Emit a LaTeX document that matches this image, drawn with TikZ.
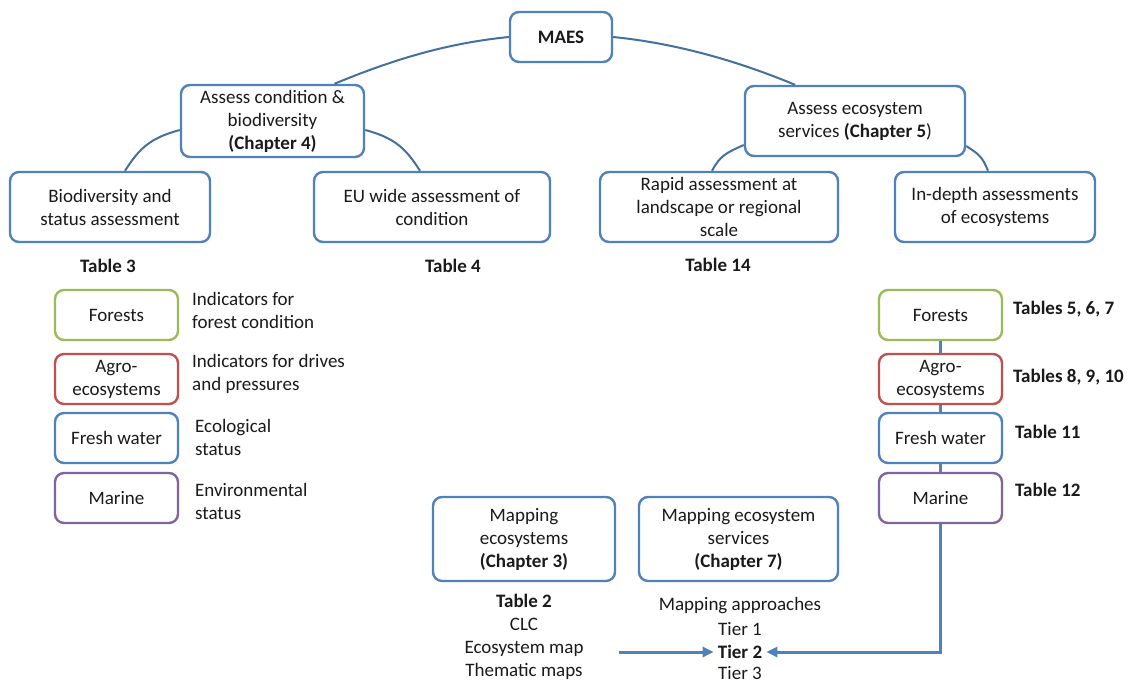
\documentclass[tikz,border=0pt]{standalone}
\usepackage{fontspec}
\setmainfont{Carlito}
\usetikzlibrary{arrows.meta,calc}
\definecolor{bblue}{HTML}{4F81BD}
\definecolor{arcblue}{HTML}{41719C}
\definecolor{fgreen}{HTML}{9BBB59}
\definecolor{ared}{HTML}{C0504D}
\definecolor{mpurple}{HTML}{8064A2}
\definecolor{txt}{HTML}{1A1A1A}
\begin{document}
\begin{tikzpicture}[x=1pt,y=-1pt,
  every node/.style={font=\fontsize{19}{23}\selectfont, text=txt},
  box/.style={draw=bblue, line width=2.4pt, rounded corners=9pt, fill=white, align=center, inner sep=0pt},
  lbl/.style={align=left, anchor=west, inner sep=0pt},
  plain/.style={align=center, inner sep=0pt},
  arcline/.style={draw=arcblue, line width=2pt},
  link/.style={draw=bblue, line width=3pt},
  tip/.style={-{Triangle[length=11pt,width=10pt]}}
]
\fill[white] (0,0) rectangle (1129,685);
\useasboundingbox (0,0) rectangle (1129,685);

% top level
\node[box, minimum width=102pt, minimum height=50pt] (maes) at (561,37) {\textbf{MAES}};
\node[box, minimum width=183pt, minimum height=72pt] (acb) at (272.5,121) {Assess condition \&\\biodiversity\\\textbf{(Chapter 4)}};
\node[box, minimum width=220pt, minimum height=70pt] (aes) at (855,121) {Assess ecosystem\\services \textbf{(Chapter 5})};

% second level
\node[box, minimum width=200pt, minimum height=70pt] (bio) at (110,207) {Biodiversity and\\status assessment};
\node[box, minimum width=236pt, minimum height=70pt] (eu) at (432,207) {EU wide assessment of\\condition};
\node[box, minimum width=238pt, minimum height=70pt] (rapid) at (719,207) {Rapid assessment at\\landscape or regional\\scale};
\node[box, minimum width=200pt, minimum height=70pt] (indepth) at (995,207) {In-depth assessments\\of ecosystems};

\node[plain] (t3) at (108,266) {\textbf{Table 3}};
\node[plain] (t4) at (453,266) {\textbf{Table 4}};
\node[plain] (t14) at (718,265) {\textbf{Table 14}};

% arcs
\draw[arcline] (maes.west) .. controls +(-60,6) and +(60,-25) .. ($(acb.north)+(62,0)$);
\draw[arcline] (maes.east) .. controls +(60,6) and +(-60,-25) .. ($(aes.north)+(-60,0)$);
\draw[arcline] ($(acb.west)+(0,9)$) .. controls +(-30,8) and +(14,-22) .. ($(bio.north)+(15,0)$);
\draw[arcline] ($(acb.east)+(0,9)$) .. controls +(30,8) and +(-14,-22) .. ($(eu.north)+(-12,0)$);
\draw[arcline] ($(aes.west)+(0,24)$) .. controls +(-18,8) and +(8,-15) .. ($(rapid.north)+(-7,0)$);
\draw[arcline] ($(aes.east)+(0,25)$) .. controls +(12,8) and +(-6,-15) .. ($(indepth.north)+(-7,0)$);

% left column
\node[box, draw=fgreen, minimum width=123pt, minimum height=50pt] (lf) at (116.5,315) {Forests};
\node[box, draw=ared, minimum width=123pt, minimum height=50pt] (la) at (116.5,379) {Agro-\\ecosystems};
\node[box, draw=bblue, minimum width=123pt, minimum height=50pt] (lw) at (116.5,438) {Fresh water};
\node[box, draw=mpurple, minimum width=123pt, minimum height=50pt] (lm) at (116.5,498) {Marine};

\node[lbl] (lfl) at (192,310.5) {Indicators for\\forest condition};
\node[lbl] (lal) at (192,373.5) {Indicators for drives\\and pressures};
\node[lbl] (lwl) at (195,437.5) {Ecological\\status};
\node[lbl] (lml) at (195,501.5) {Environmental\\status};

% right column
\node[box, draw=fgreen, minimum width=123pt, minimum height=50pt] (rf) at (940.5,315) {Forests};
\node[box, draw=ared, minimum width=123pt, minimum height=50pt] (ra) at (940.5,379) {Agro-\\ecosystems};
\node[box, draw=bblue, minimum width=123pt, minimum height=50pt] (rw) at (940.5,438) {Fresh water};
\node[box, draw=mpurple, minimum width=123pt, minimum height=50pt] (rm) at (940.5,498) {Marine};

\node[lbl] (rfl) at (1013,309) {\textbf{Tables 5, 6, 7}};
\node[lbl] (ral) at (1013,377) {\textbf{Tables 8, 9, 10}};
\node[lbl] (rwl) at (1015,432) {\textbf{Table 11}};
\node[lbl] (rml) at (1015,490) {\textbf{Table 12}};

\draw[link] (rf.south) -- (ra.north);
\draw[link] (ra.south) -- (rw.north);
\draw[link] (rw.south) -- (rm.north);

% bottom
\node[box, minimum width=182pt, minimum height=84pt] (mapeco) at (524,539) {Mapping\\ecosystems\\\textbf{(Chapter 3)}};
\node[box, minimum width=199pt, minimum height=84pt] (mapes) at (738.5,539) {Mapping ecosystem\\services\\\textbf{(Chapter 7)}};

\node[plain] (ecolist) at (524,637) {\textbf{Table 2}\\CLC\\Ecosystem map\\Thematic maps};
\node[plain] (ma) at (740,606) {Mapping approaches};
\node[plain] (tier1) at (740,629) {Tier 1};
\node[inner sep=4pt] (tier2) at (740,652) {\textbf{Tier 2}};
\node[plain] (tier3) at (740,673) {Tier 3};

\coordinate (lstart) at ($(tier2.west)+(-95,0)$);
\draw[link, tip] (lstart) -- (tier2.west);
\draw[link, tip] (rm.south) |- (tier2.east);
\end{tikzpicture}
\end{document}
